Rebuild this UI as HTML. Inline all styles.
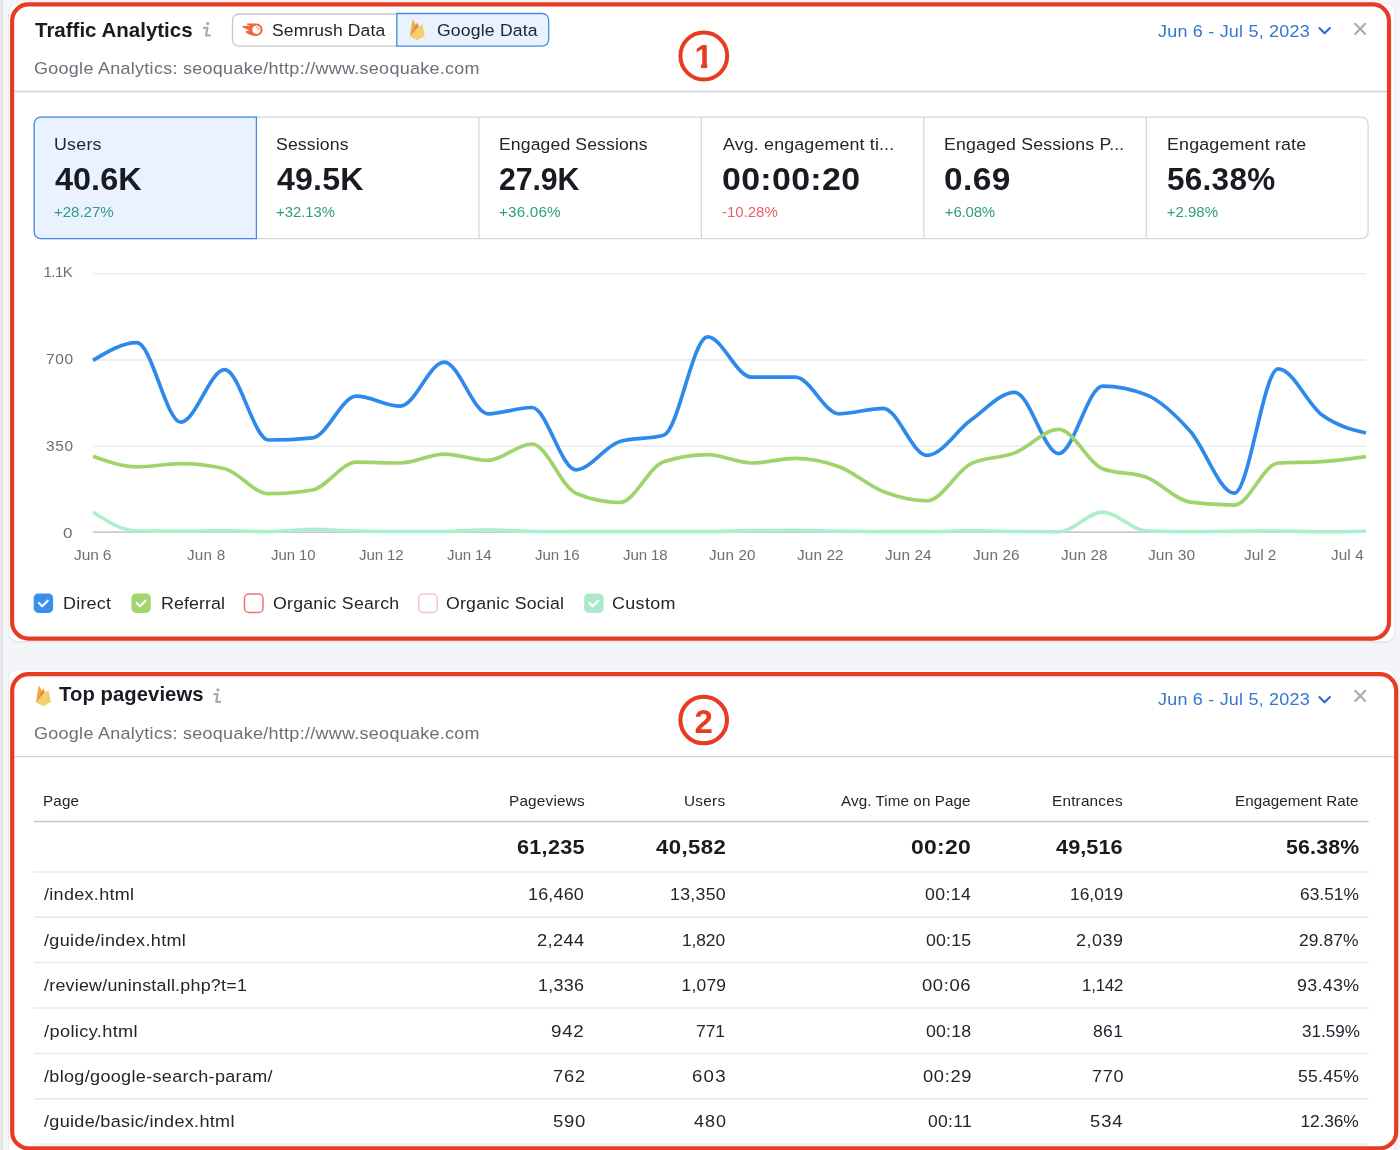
<!DOCTYPE html>
<html lang="en"><head><meta charset="utf-8"><title>Traffic Analytics</title><style>
*{box-sizing:border-box;margin:0;padding:0}
html,body{width:1400px;height:1150px;overflow:hidden;background:#f4f5f9;font-family:"Liberation Sans",sans-serif}
.t{position:absolute;white-space:nowrap;line-height:1;display:block}
.abs{position:absolute}
.ov{position:absolute;left:0;top:0}
</style></head><body>
<div class="abs" style="left:0;top:0;width:4px;height:1150px;background:linear-gradient(90deg,#e9e9ea 0,#e8e8e9 48%,#dddde0 52%,#dfdfe2 72%,#f0f1f4 80%,#f4f5f9 100%)"></div>
<div class="abs" style="left:9px;top:3.5px;width:1384.5px;height:637px;background:#fff;border-radius:8px;box-shadow:0 1px 3px rgba(25,27,35,.09),0 0 1px rgba(25,27,35,.10)"></div>
<div class="abs" style="left:9px;top:669.5px;width:1384.5px;height:500px;background:#fff;border-radius:8px;box-shadow:0 1px 3px rgba(25,27,35,.09),0 0 1px rgba(25,27,35,.10)"></div>
<svg class="ov" width="1400" height="1150" viewBox="0 0 1400 1150">
<line x1="14.0" x2="1387.0" y1="91.50" y2="91.50" stroke="#d1d4dc" stroke-width="1.3"/>
<line x1="14.0" x2="1394.0" y1="756.70" y2="756.70" stroke="#d1d4dc" stroke-width="1.3"/>
<rect x="232.5" y="14" width="170" height="32.2" rx="6.5" fill="#fff" stroke="#c4c7cf" stroke-width="1.3"/>
<path d="M396.8 13.5H542.2a6.5 6.5 0 0 1 6.5 6.5V39.7a6.5 6.5 0 0 1 -6.5 6.5H396.8Z" fill="#eaf2ff" stroke="#4a8be0" stroke-width="1.3"/>
<rect x="34.2" y="117.2" width="1333.9" height="121.4" rx="6.5" fill="#fff" stroke="#d4d6dd" stroke-width="1.3"/>
<line x1="478.87" x2="478.87" y1="117.2" y2="238.6" stroke="#d4d6dd" stroke-width="1.3"/>
<line x1="701.35" x2="701.35" y1="117.2" y2="238.6" stroke="#d4d6dd" stroke-width="1.3"/>
<line x1="923.83" x2="923.83" y1="117.2" y2="238.6" stroke="#d4d6dd" stroke-width="1.3"/>
<line x1="1146.32" x2="1146.32" y1="117.2" y2="238.6" stroke="#d4d6dd" stroke-width="1.3"/>
<path d="M256.4 117.2H40.7a6.5 6.5 0 0 0 -6.5 6.5V232.1a6.5 6.5 0 0 0 6.5 6.5H256.4Z" fill="#eaf2ff" stroke="#4a8be0" stroke-width="1.3"/>
<line x1="33.7" x2="1368.7" y1="821.60" y2="821.60" stroke="#c2c5cf" stroke-width="1.5"/>
<line x1="33.7" x2="1368.7" y1="872.00" y2="872.00" stroke="#e5e7ee" stroke-width="1.4"/>
<line x1="33.7" x2="1368.7" y1="917.30" y2="917.30" stroke="#e5e7ee" stroke-width="1.4"/>
<line x1="33.7" x2="1368.7" y1="962.60" y2="962.60" stroke="#e5e7ee" stroke-width="1.4"/>
<line x1="33.7" x2="1368.7" y1="1008.00" y2="1008.00" stroke="#e5e7ee" stroke-width="1.4"/>
<line x1="33.7" x2="1368.7" y1="1053.40" y2="1053.40" stroke="#e5e7ee" stroke-width="1.4"/>
<line x1="33.7" x2="1368.7" y1="1098.80" y2="1098.80" stroke="#e5e7ee" stroke-width="1.4"/>
<line x1="33.7" x2="1368.7" y1="1144.10" y2="1144.10" stroke="#e5e7ee" stroke-width="1.4"/>
<line x1="93" x2="1366" y1="273.9" y2="273.9" stroke="#e6e9ec" stroke-width="1.4"/>
<line x1="93" x2="1366" y1="360.0" y2="360.0" stroke="#e6e9ec" stroke-width="1.4"/>
<line x1="93" x2="1366" y1="446.1" y2="446.1" stroke="#e6e9ec" stroke-width="1.4"/>
<line x1="93" x2="1366" y1="532.1" y2="532.1" stroke="#b4b6c1" stroke-width="1.4"/>
<path d="M93.0 360.4C107.6 351.5 122.3 342.7 136.9 342.7C151.5 342.7 166.2 422.1 180.8 422.1C195.4 422.1 210.1 369.7 224.7 369.7C239.3 369.7 254.0 440.0 268.6 440.0C283.2 440.0 297.9 439.3 312.5 437.8C327.1 436.3 341.7 396.2 356.4 396.2C371.0 396.2 385.6 406.2 400.3 406.2C414.9 406.2 429.5 362.1 444.2 362.1C458.8 362.1 473.4 413.8 488.1 413.8C502.7 413.8 517.3 407.5 532.0 407.5C546.6 407.5 561.2 469.8 575.9 469.8C590.5 469.8 605.1 445.7 619.8 441.5C634.4 437.3 649.0 439.4 663.7 435.2C678.3 431.0 692.9 336.9 707.6 336.9C722.2 336.9 736.8 377.2 751.4 377.2C766.1 377.2 780.7 377.2 795.3 377.2C810.0 377.2 824.6 413.8 839.2 413.8C853.9 413.8 868.5 408.3 883.1 408.3C897.8 408.3 912.4 455.4 927.0 455.4C941.7 455.4 956.3 430.6 970.9 420.1C985.6 409.6 1000.2 392.4 1014.8 392.4C1029.5 392.4 1044.1 453.6 1058.7 453.6C1073.4 453.6 1088.0 386.1 1102.6 386.1C1117.3 386.1 1131.9 389.0 1146.5 394.9C1161.1 400.8 1175.8 415.1 1190.4 431.5C1205.0 447.9 1219.7 493.2 1234.3 493.2C1248.9 493.2 1263.6 368.9 1278.2 368.9C1292.8 368.9 1307.5 404.4 1322.1 415.1C1336.7 425.8 1351.4 429.4 1366.0 433.0" fill="none" stroke="#2e89ec" stroke-width="3.7" stroke-linecap="butt" stroke-linejoin="round"/>
<path d="M93.0 456.2C107.6 461.5 122.3 466.8 136.9 466.8C151.5 466.8 166.2 463.7 180.8 463.7C195.4 463.7 210.1 465.4 224.7 468.8C239.3 472.2 254.0 493.7 268.6 493.7C283.2 493.7 297.9 492.5 312.5 490.0C327.1 487.5 341.7 462.2 356.4 462.2C371.0 462.2 385.6 463.0 400.3 463.0C414.9 463.0 429.5 454.1 444.2 454.1C458.8 454.1 473.4 460.4 488.1 460.4C502.7 460.4 517.3 444.0 532.0 444.0C546.6 444.0 561.2 487.0 575.9 493.2C590.5 499.4 605.1 502.5 619.8 502.5C634.4 502.5 649.0 466.4 663.7 461.7C678.3 457.0 692.9 454.6 707.6 454.6C722.2 454.6 736.8 463.0 751.4 463.0C766.1 463.0 780.7 458.4 795.3 458.4C810.0 458.4 824.6 461.3 839.2 466.8C853.9 472.3 868.5 485.8 883.1 491.5C897.8 497.2 912.4 500.8 927.0 500.8C941.7 500.8 956.3 470.9 970.9 463.7C985.6 456.5 1000.2 458.6 1014.8 452.9C1029.5 447.2 1044.1 429.4 1058.7 429.4C1073.4 429.4 1088.0 463.1 1102.6 468.8C1117.3 474.5 1131.9 471.8 1146.5 477.3C1161.1 482.9 1175.8 500.1 1190.4 502.1C1205.0 504.1 1219.7 505.1 1234.3 505.1C1248.9 505.1 1263.6 463.9 1278.2 463.0C1292.8 462.1 1307.5 462.6 1322.1 461.7C1336.7 460.8 1351.4 458.8 1366.0 456.7" fill="none" stroke="#a0d46b" stroke-width="3.7" stroke-linejoin="round"/>
<path d="M93.0 512.2C107.6 521.5 122.3 530.9 136.9 531.0C151.5 531.1 166.2 531.2 180.8 531.2C195.4 531.2 210.1 530.8 224.7 530.8C239.3 530.8 254.0 531.6 268.6 531.6C283.2 531.6 297.9 529.3 312.5 529.3C327.1 529.3 341.7 530.7 356.4 531.0C371.0 531.3 385.6 531.5 400.3 531.5C414.9 531.5 429.5 531.5 444.2 531.5C458.8 531.5 473.4 529.8 488.1 529.8C502.7 529.8 517.3 531.4 532.0 531.5C546.6 531.6 561.2 531.6 575.9 531.6C590.5 531.6 605.1 531.6 619.8 531.6C634.4 531.6 649.0 531.6 663.7 531.6C678.3 531.6 692.9 531.6 707.6 531.6C722.2 531.6 736.8 530.8 751.4 530.6C766.1 530.4 780.7 530.2 795.3 530.2C810.0 530.2 824.6 531.0 839.2 531.2C853.9 531.4 868.5 531.6 883.1 531.6C897.8 531.6 912.4 531.6 927.0 531.6C941.7 531.6 956.3 530.8 970.9 530.8C985.6 530.8 1000.2 531.3 1014.8 531.5C1029.5 531.7 1044.1 531.8 1058.7 531.8C1073.4 531.8 1088.0 512.1 1102.6 512.1C1117.3 512.1 1131.9 530.6 1146.5 531.0C1161.1 531.4 1175.8 531.6 1190.4 531.6C1205.0 531.6 1219.7 531.5 1234.3 531.4C1248.9 531.3 1263.6 531.0 1278.2 531.0C1292.8 531.0 1307.5 531.7 1322.1 531.7C1336.7 531.7 1351.4 531.5 1366.0 531.2" fill="none" stroke="#adeecd" stroke-width="3.6" stroke-linejoin="round"/>
<path d="M246.9 23.6L256.5 23.6A6.15 6.15 0 0 1 256.5 35.9C252.5 35.9 248.5 34.3 245.8 32.4L245.8 31.2L249.2 30.6L242.5 27.2L242.5 25.9L250 25.7L246.9 24.6Z" fill="#f0653a"/><circle cx="256.4" cy="29.7" r="4.2" fill="#fff"/><path d="M256.6 27.3A2.6 2.6 0 0 1 259 29.8" fill="none" stroke="#f0653a" stroke-width="0.9" stroke-linecap="round"/>
<g transform="translate(409.8,19.7)"><path d="M0.1 16.4L2.7 0.4Q2.95-0.1 3.3 0.4L6.5 6.1L0.5 16.5Z" fill="#f1ab3a"/><path d="M0.3 16.5L6 5.2L7.3 3.3Q7.55 2.9 7.85 3.4L8.5 7.4L0.6 16.6Z" fill="#dd8d47"/><path d="M7.6 3.1L9.3 6.8L8.2 7.9Z" fill="#f1ab3a"/><path d="M0.15 16.55L11.3 5Q12 4.1 12.7 5L15 16.3L8.3 20.1Q7.4 20.6 6.5 20.1Z" fill="#f2cf6b"/></g>
<g transform="translate(35.9,685.7)"><path d="M0.1 16.4L2.7 0.4Q2.95-0.1 3.3 0.4L6.5 6.1L0.5 16.5Z" fill="#f1ab3a"/><path d="M0.3 16.5L6 5.2L7.3 3.3Q7.55 2.9 7.85 3.4L8.5 7.4L0.6 16.6Z" fill="#dd8d47"/><path d="M7.6 3.1L9.3 6.8L8.2 7.9Z" fill="#f1ab3a"/><path d="M0.15 16.55L11.3 5Q12 4.1 12.7 5L15 16.3L8.3 20.1Q7.4 20.6 6.5 20.1Z" fill="#f2cf6b"/></g>
<g transform="translate(0,0)" fill="none" stroke="#a9abb8" stroke-width="2.2" stroke-linecap="round" stroke-linejoin="round"><circle cx="207.7" cy="23.6" r="1.7" fill="#a9abb8" stroke="none"/><path d="M204 27.8H207.4L206 35.5H210"/></g>
<g transform="translate(10.2,666.3)" fill="none" stroke="#a9abb8" stroke-width="2.2" stroke-linecap="round" stroke-linejoin="round"><circle cx="207.7" cy="23.6" r="1.7" fill="#a9abb8" stroke="none"/><path d="M204 27.8H207.4L206 35.5H210"/></g>
<g fill="none" stroke-width="2.1" stroke-linecap="round" stroke-linejoin="round"><path transform="translate(0,0)" d="M1319.4 28.1L1324.6 33.3L1329.9 28.1" stroke="#2a6fc9"/><path transform="translate(0,0)" d="M1355.2 23.8L1365.2 34M1365.2 23.8L1355.2 34" stroke="#a9abb6"/></g>
<g fill="none" stroke-width="2.1" stroke-linecap="round" stroke-linejoin="round"><path transform="translate(0,669)" d="M1319.4 28.1L1324.6 33.3L1329.9 28.1" stroke="#2a6fc9"/><path transform="translate(0,666.9)" d="M1355.2 23.8L1365.2 34M1365.2 23.8L1355.2 34" stroke="#a9abb6"/></g>
<rect x="12.1" y="4.4" width="1376.9" height="634.2" rx="16.5" fill="none" stroke="#e83c22" stroke-width="4.2"/>
<rect x="12.2" y="674.1" width="1384" height="474.3" rx="16.5" fill="none" stroke="#e83c22" stroke-width="4.2"/>
<circle cx="703.8" cy="56" r="23.4" fill="none" stroke="#e83c22" stroke-width="4"/>
<circle cx="703.7" cy="720" r="23.3" fill="none" stroke="#e83c22" stroke-width="4.1"/>
<clipPath id="c1"><path d="M690 40H720V64H707.2V70H701V64H690Z"/></clipPath><text x="703.8" y="67.9" clip-path="url(#c1)" text-anchor="middle" font-family="Liberation Sans, sans-serif" font-weight="700" font-size="33" fill="#e83c22">1</text>
<text x="703.6" y="732.8" text-anchor="middle" font-family="Liberation Sans, sans-serif" font-weight="700" font-size="33" fill="#e83c22">2</text>
<rect x="33.7" y="593.5" width="19.4" height="19.4" rx="4.6" fill="#398fee"/><path d="M39.0 603L42.2 606.2L47.75 600.7" fill="none" stroke="#fff" stroke-width="2.2" stroke-linecap="round" stroke-linejoin="round"/>
<rect x="131.4" y="593.5" width="19.4" height="19.4" rx="4.6" fill="#a3d56e"/><path d="M136.70000000000002 603L139.9 606.2L145.45000000000002 600.7" fill="none" stroke="#fff" stroke-width="2.2" stroke-linecap="round" stroke-linejoin="round"/>
<rect x="244.5" y="593.95" width="18.5" height="18.6" rx="4.3" fill="#fff" stroke="#ee7479" stroke-width="1.5"/>
<rect x="418.7" y="593.95" width="18.5" height="18.6" rx="4.3" fill="#fff" stroke="#f8c4ca" stroke-width="1.5"/>
<rect x="584.1" y="593.5" width="19.4" height="19.4" rx="4.6" fill="#ace9cc"/><path d="M589.4 603L592.6 606.2L598.15 600.7" fill="none" stroke="#fff" stroke-width="2.2" stroke-linecap="round" stroke-linejoin="round"/>
</svg>
<span id="t0" class="t" style="left:34.60px;top:20px;font-size:20.10px;font-weight:700;color:#191b23;letter-spacing:-0.006px;transform:scaleX(1.0209);transform-origin:0 0">Traffic Analytics</span>
<span id="t1" class="t" style="left:272.20px;top:22px;font-size:17.40px;font-weight:400;color:#23252e;letter-spacing:0.106px;transform:scaleX(1.0072);transform-origin:0 0">Semrush Data</span>
<span id="t2" class="t" style="left:436.60px;top:22px;font-size:17.40px;font-weight:400;color:#23252e;letter-spacing:0.181px;transform:scaleX(1.0113);transform-origin:0 0">Google Data</span>
<span id="t3" class="t" style="left:33.60px;top:60px;font-size:17.40px;font-weight:400;color:#6c6e79;letter-spacing:0.281px;transform:scaleX(1.0329);transform-origin:0 0">Google Analytics: seoquake/http://www.seoquake.com</span>
<span id="t4" class="t" style="left:1157.60px;top:23px;font-size:17.40px;font-weight:400;color:#3377cf;letter-spacing:0.207px;transform:scaleX(1.0335);transform-origin:0 0">Jun 6 - Jul 5, 2023</span>
<span id="t5" class="t" style="left:54.20px;top:136px;font-size:17.40px;font-weight:400;color:#23252e;letter-spacing:0.244px;transform:scaleX(1.0227);transform-origin:0 0">Users</span>
<span id="t6" class="t" style="left:55.20px;top:165px;font-size:30.90px;font-weight:700;color:#191b23;letter-spacing:0.024px;transform:scaleX(1.0494);transform-origin:0 0">40.6K</span>
<span id="t7" class="t" style="left:54.20px;top:204px;font-size:15.00px;font-weight:400;color:#2f9e7d;letter-spacing:-0.040px;transform:scaleX(1.0052);transform-origin:0 0">+28.27%</span>
<span id="t8" class="t" style="left:276.10px;top:136px;font-size:17.40px;font-weight:400;color:#23252e;letter-spacing:0.141px;transform:scaleX(1.0145);transform-origin:0 0">Sessions</span>
<span id="t9" class="t" style="left:277.10px;top:165px;font-size:30.90px;font-weight:700;color:#191b23;letter-spacing:0.192px;transform:scaleX(1.0390);transform-origin:0 0">49.5K</span>
<span id="t10" class="t" style="left:276.10px;top:204px;font-size:15.00px;font-weight:400;color:#2f9e7d;letter-spacing:0.025px;transform:scaleX(0.9873);transform-origin:0 0">+32.13%</span>
<span id="t11" class="t" style="left:499.00px;top:136px;font-size:17.40px;font-weight:400;color:#23252e;letter-spacing:0.115px;transform:scaleX(1.0122);transform-origin:0 0">Engaged Sessions</span>
<span id="t12" class="t" style="left:499.00px;top:165px;font-size:30.90px;font-weight:700;color:#191b23;letter-spacing:-0.102px;transform:scaleX(0.9802);transform-origin:0 0">27.9K</span>
<span id="t13" class="t" style="left:499.00px;top:204px;font-size:15.00px;font-weight:400;color:#2f9e7d;letter-spacing:0.164px;transform:scaleX(1.0172);transform-origin:0 0">+36.06%</span>
<span id="t14" class="t" style="left:722.90px;top:136px;font-size:17.40px;font-weight:400;color:#23252e;letter-spacing:0.151px;transform:scaleX(1.0247);transform-origin:0 0">Avg. engagement ti...</span>
<span id="t15" class="t" style="left:721.90px;top:165px;font-size:30.90px;font-weight:700;color:#191b23;letter-spacing:0.273px;transform:scaleX(1.0992);transform-origin:0 0">00:00:20</span>
<span id="t16" class="t" style="left:721.90px;top:204px;font-size:15.00px;font-weight:400;color:#e5616b">-10.28%</span>
<span id="t17" class="t" style="left:943.80px;top:136px;font-size:17.40px;font-weight:400;color:#23252e;letter-spacing:0.159px;transform:scaleX(1.0190);transform-origin:0 0">Engaged Sessions P...</span>
<span id="t18" class="t" style="left:943.80px;top:165px;font-size:30.90px;font-weight:700;color:#191b23;letter-spacing:0.369px;transform:scaleX(1.0828);transform-origin:0 0">0.69</span>
<span id="t19" class="t" style="left:944.80px;top:204px;font-size:15.00px;font-weight:400;color:#2f9e7d;letter-spacing:-0.180px">+6.08%</span>
<span id="t20" class="t" style="left:1166.70px;top:136px;font-size:17.40px;font-weight:400;color:#23252e;letter-spacing:0.165px;transform:scaleX(1.0248);transform-origin:0 0">Engagement rate</span>
<span id="t21" class="t" style="left:1166.70px;top:165px;font-size:30.90px;font-weight:700;color:#191b23;letter-spacing:0.274px;transform:scaleX(1.0192);transform-origin:0 0">56.38%</span>
<span id="t22" class="t" style="left:1166.70px;top:204px;font-size:15.00px;font-weight:400;color:#2f9e7d">+2.98%</span>
<span id="t23" class="t" style="left:43.40px;top:264px;font-size:15.00px;font-weight:400;color:#6c6e79;letter-spacing:-0.500px">1.1K</span>
<span id="t24" class="t" style="left:45.60px;top:351px;font-size:15.00px;font-weight:400;color:#6c6e79;letter-spacing:0.603px;transform:scaleX(1.0292);transform-origin:0 0">700</span>
<span id="t25" class="t" style="left:45.60px;top:438px;font-size:15.00px;font-weight:400;color:#6c6e79;letter-spacing:0.603px;transform:scaleX(1.0292);transform-origin:0 0">350</span>
<span id="t26" class="t" style="left:63.20px;top:525px;font-size:15.00px;font-weight:400;color:#6c6e79;transform:scaleX(1.1357);transform-origin:0 0">0</span>
<span id="t27" class="t" style="left:74.20px;top:547px;font-size:15.00px;font-weight:400;color:#6c6e79;letter-spacing:-0.114px;transform:scaleX(1.0329);transform-origin:0 0">Jun 6</span>
<span id="t28" class="t" style="left:186.50px;top:547px;font-size:15.00px;font-weight:400;color:#6c6e79;letter-spacing:0.203px;transform:scaleX(1.0181);transform-origin:0 0">Jun 8</span>
<span id="t29" class="t" style="left:271.30px;top:547px;font-size:15.00px;font-weight:400;color:#6c6e79;letter-spacing:-0.036px;transform:scaleX(0.9922);transform-origin:0 0">Jun 10</span>
<span id="t30" class="t" style="left:359.10px;top:547px;font-size:15.00px;font-weight:400;color:#6c6e79;letter-spacing:-0.114px;transform:scaleX(1.0034);transform-origin:0 0">Jun 12</span>
<span id="t31" class="t" style="left:446.90px;top:547px;font-size:15.00px;font-weight:400;color:#6c6e79;letter-spacing:-0.114px;transform:scaleX(1.0034);transform-origin:0 0">Jun 14</span>
<span id="t32" class="t" style="left:534.70px;top:547px;font-size:15.00px;font-weight:400;color:#6c6e79;letter-spacing:-0.114px;transform:scaleX(1.0034);transform-origin:0 0">Jun 16</span>
<span id="t33" class="t" style="left:622.50px;top:547px;font-size:15.00px;font-weight:400;color:#6c6e79;letter-spacing:-0.114px;transform:scaleX(1.0034);transform-origin:0 0">Jun 18</span>
<span id="t34" class="t" style="left:709.30px;top:547px;font-size:15.00px;font-weight:400;color:#6c6e79;letter-spacing:0.163px;transform:scaleX(1.0144);transform-origin:0 0">Jun 20</span>
<span id="t35" class="t" style="left:797.10px;top:547px;font-size:15.00px;font-weight:400;color:#6c6e79;letter-spacing:0.084px;transform:scaleX(1.0261);transform-origin:0 0">Jun 22</span>
<span id="t36" class="t" style="left:884.90px;top:547px;font-size:15.00px;font-weight:400;color:#6c6e79;letter-spacing:0.084px;transform:scaleX(1.0261);transform-origin:0 0">Jun 24</span>
<span id="t37" class="t" style="left:972.70px;top:547px;font-size:15.00px;font-weight:400;color:#6c6e79;letter-spacing:0.084px;transform:scaleX(1.0261);transform-origin:0 0">Jun 26</span>
<span id="t38" class="t" style="left:1060.50px;top:547px;font-size:15.00px;font-weight:400;color:#6c6e79;letter-spacing:0.084px;transform:scaleX(1.0261);transform-origin:0 0">Jun 28</span>
<span id="t39" class="t" style="left:1147.80px;top:547px;font-size:15.00px;font-weight:400;color:#6c6e79;letter-spacing:0.131px;transform:scaleX(1.0318);transform-origin:0 0">Jun 30</span>
<span id="t40" class="t" style="left:1243.50px;top:547px;font-size:15.00px;font-weight:400;color:#6c6e79;letter-spacing:-0.036px;transform:scaleX(1.0250);transform-origin:0 0">Jul 2</span>
<span id="t41" class="t" style="left:1330.80px;top:547px;font-size:15.00px;font-weight:400;color:#6c6e79;letter-spacing:0.123px;transform:scaleX(1.0161);transform-origin:0 0">Jul 4</span>
<span id="t42" class="t" style="left:63.40px;top:595px;font-size:17.40px;font-weight:400;color:#23252e;letter-spacing:0.213px;transform:scaleX(1.0330);transform-origin:0 0">Direct</span>
<span id="t43" class="t" style="left:160.70px;top:595px;font-size:17.40px;font-weight:400;color:#23252e;letter-spacing:0.084px;transform:scaleX(1.0254);transform-origin:0 0">Referral</span>
<span id="t44" class="t" style="left:272.80px;top:595px;font-size:17.40px;font-weight:400;color:#23252e;letter-spacing:0.256px;transform:scaleX(1.0162);transform-origin:0 0">Organic Search</span>
<span id="t45" class="t" style="left:446.20px;top:595px;font-size:17.40px;font-weight:400;color:#23252e;letter-spacing:0.219px;transform:scaleX(1.0179);transform-origin:0 0">Organic Social</span>
<span id="t46" class="t" style="left:612.20px;top:595px;font-size:17.40px;font-weight:400;color:#23252e;letter-spacing:0.340px;transform:scaleX(1.0302);transform-origin:0 0">Custom</span>
<span id="t47" class="t" style="left:59.20px;top:684px;font-size:20.10px;font-weight:700;color:#191b23;letter-spacing:0.068px;transform:scaleX(1.0079);transform-origin:0 0">Top pageviews</span>
<span id="t48" class="t" style="left:33.60px;top:725px;font-size:17.40px;font-weight:400;color:#6c6e79;letter-spacing:0.281px;transform:scaleX(1.0329);transform-origin:0 0">Google Analytics: seoquake/http://www.seoquake.com</span>
<span id="t49" class="t" style="left:1157.60px;top:691px;font-size:17.40px;font-weight:400;color:#3377cf;letter-spacing:0.207px;transform:scaleX(1.0335);transform-origin:0 0">Jun 6 - Jul 5, 2023</span>
<span id="t50" class="t" style="left:43.00px;top:793px;font-size:15.00px;font-weight:400;color:#23252e;letter-spacing:0.164px;transform:scaleX(1.0152);transform-origin:0 0">Page</span>
<span id="t51" class="t" style="left:509.00px;top:793px;font-size:15.00px;font-weight:400;color:#23252e;letter-spacing:0.174px;transform:scaleX(1.0225);transform-origin:0 0">Pageviews</span>
<span id="t52" class="t" style="left:683.80px;top:793px;font-size:15.00px;font-weight:400;color:#23252e;letter-spacing:0.264px;transform:scaleX(1.0237);transform-origin:0 0">Users</span>
<span id="t53" class="t" style="left:841.40px;top:793px;font-size:15.00px;font-weight:400;color:#23252e;letter-spacing:0.093px;transform:scaleX(1.0119);transform-origin:0 0">Avg. Time on Page</span>
<span id="t54" class="t" style="left:1052.20px;top:793px;font-size:15.00px;font-weight:400;color:#23252e;letter-spacing:0.193px;transform:scaleX(1.0212);transform-origin:0 0">Entrances</span>
<span id="t55" class="t" style="left:1235.00px;top:793px;font-size:15.00px;font-weight:400;color:#23252e;letter-spacing:0.070px;transform:scaleX(1.0130);transform-origin:0 0">Engagement Rate</span>
<span id="t56" class="t" style="left:517.40px;top:837px;font-size:20.10px;font-weight:700;color:#191b23;letter-spacing:0.250px;transform:scaleX(1.0773);transform-origin:0 0">61,235</span>
<span id="t57" class="t" style="left:656.20px;top:837px;font-size:20.10px;font-weight:700;color:#191b23;letter-spacing:0.385px;transform:scaleX(1.1036);transform-origin:0 0">40,582</span>
<span id="t58" class="t" style="left:911.40px;top:837px;font-size:20.10px;font-weight:700;color:#191b23;letter-spacing:0.272px;transform:scaleX(1.1400);transform-origin:0 0">00:20</span>
<span id="t59" class="t" style="left:1056.00px;top:837px;font-size:20.10px;font-weight:700;color:#191b23;letter-spacing:0.055px;transform:scaleX(1.0800);transform-origin:0 0">49,516</span>
<span id="t60" class="t" style="left:1285.60px;top:837px;font-size:20.10px;font-weight:700;color:#191b23;letter-spacing:0.189px;transform:scaleX(1.0597);transform-origin:0 0">56.38%</span>
<span id="t61" class="t" style="left:43.80px;top:886px;font-size:17.40px;font-weight:400;color:#23252e;letter-spacing:0.305px;transform:scaleX(1.0337);transform-origin:0 0">/index.html</span>
<span id="t62" class="t" style="left:528.20px;top:886px;font-size:17.40px;font-weight:400;color:#23252e;letter-spacing:0.164px;transform:scaleX(1.0343);transform-origin:0 0">16,460</span>
<span id="t63" class="t" style="left:670.20px;top:886px;font-size:17.40px;font-weight:400;color:#23252e;letter-spacing:0.292px;transform:scaleX(1.0183);transform-origin:0 0">13,350</span>
<span id="t64" class="t" style="left:925.40px;top:886px;font-size:17.40px;font-weight:400;color:#23252e;letter-spacing:0.406px;transform:scaleX(1.0174);transform-origin:0 0">00:14</span>
<span id="t65" class="t" style="left:1070.00px;top:886px;font-size:17.40px;font-weight:400;color:#23252e">16,019</span>
<span id="t66" class="t" style="left:1300.00px;top:886px;font-size:17.40px;font-weight:400;color:#23252e;letter-spacing:0.032px;transform:scaleX(0.9966);transform-origin:0 0">63.51%</span>
<span id="t67" class="t" style="left:43.80px;top:932px;font-size:17.40px;font-weight:400;color:#23252e;letter-spacing:0.345px;transform:scaleX(1.0355);transform-origin:0 0">/guide/index.html</span>
<span id="t68" class="t" style="left:536.60px;top:932px;font-size:17.40px;font-weight:400;color:#23252e;letter-spacing:0.359px;transform:scaleX(1.0488);transform-origin:0 0">2,244</span>
<span id="t69" class="t" style="left:682.20px;top:932px;font-size:17.40px;font-weight:400;color:#23252e;letter-spacing:-0.105px;transform:scaleX(0.9988);transform-origin:0 0">1,820</span>
<span id="t70" class="t" style="left:926.00px;top:932px;font-size:17.40px;font-weight:400;color:#23252e;letter-spacing:0.144px;transform:scaleX(1.0226);transform-origin:0 0">00:15</span>
<span id="t71" class="t" style="left:1075.80px;top:932px;font-size:17.40px;font-weight:400;color:#23252e;letter-spacing:0.503px;transform:scaleX(1.0314);transform-origin:0 0">2,039</span>
<span id="t72" class="t" style="left:1298.60px;top:932px;font-size:17.40px;font-weight:400;color:#23252e;letter-spacing:0.050px;transform:scaleX(1.0043);transform-origin:0 0">29.87%</span>
<span id="t73" class="t" style="left:43.80px;top:977px;font-size:17.40px;font-weight:400;color:#23252e;letter-spacing:0.240px;transform:scaleX(1.0260);transform-origin:0 0">/review/uninstall.php?t=1</span>
<span id="t74" class="t" style="left:538.20px;top:977px;font-size:17.40px;font-weight:400;color:#23252e;letter-spacing:0.303px;transform:scaleX(1.0298);transform-origin:0 0">1,336</span>
<span id="t75" class="t" style="left:681.60px;top:977px;font-size:17.40px;font-weight:400;color:#23252e;letter-spacing:0.225px">1,079</span>
<span id="t76" class="t" style="left:922.40px;top:977px;font-size:17.40px;font-weight:400;color:#23252e;letter-spacing:0.590px;transform:scaleX(1.0595);transform-origin:0 0">00:06</span>
<span id="t77" class="t" style="left:1081.60px;top:977px;font-size:17.40px;font-weight:400;color:#23252e;letter-spacing:-0.195px;transform:scaleX(0.9690);transform-origin:0 0">1,142</span>
<span id="t78" class="t" style="left:1296.60px;top:977px;font-size:17.40px;font-weight:400;color:#23252e;letter-spacing:0.292px;transform:scaleX(1.0259);transform-origin:0 0">93.43%</span>
<span id="t79" class="t" style="left:43.80px;top:1023px;font-size:17.40px;font-weight:400;color:#23252e;letter-spacing:0.368px;transform:scaleX(1.0435);transform-origin:0 0">/policy.html</span>
<span id="t80" class="t" style="left:551.40px;top:1023px;font-size:17.40px;font-weight:400;color:#23252e;letter-spacing:0.662px;transform:scaleX(1.0796);transform-origin:0 0">942</span>
<span id="t81" class="t" style="left:696.40px;top:1023px;font-size:17.40px;font-weight:400;color:#23252e;letter-spacing:-0.039px;transform:scaleX(1.0037);transform-origin:0 0">771</span>
<span id="t82" class="t" style="left:926.00px;top:1023px;font-size:17.40px;font-weight:400;color:#23252e;letter-spacing:0.144px;transform:scaleX(1.0226);transform-origin:0 0">00:18</span>
<span id="t83" class="t" style="left:1092.60px;top:1023px;font-size:17.40px;font-weight:400;color:#23252e;letter-spacing:0.368px;transform:scaleX(1.0071);transform-origin:0 0">861</span>
<span id="t84" class="t" style="left:1301.60px;top:1023px;font-size:17.40px;font-weight:400;color:#23252e;letter-spacing:-0.021px;transform:scaleX(0.9828);transform-origin:0 0">31.59%</span>
<span id="t85" class="t" style="left:43.80px;top:1068px;font-size:17.40px;font-weight:400;color:#23252e;letter-spacing:0.315px;transform:scaleX(1.0366);transform-origin:0 0">/blog/google-search-param/</span>
<span id="t86" class="t" style="left:552.80px;top:1068px;font-size:17.40px;font-weight:400;color:#23252e;letter-spacing:0.835px;transform:scaleX(1.0429);transform-origin:0 0">762</span>
<span id="t87" class="t" style="left:692.20px;top:1068px;font-size:17.40px;font-weight:400;color:#23252e;letter-spacing:1.165px;transform:scaleX(1.0696);transform-origin:0 0">603</span>
<span id="t88" class="t" style="left:923.00px;top:1068px;font-size:17.40px;font-weight:400;color:#23252e;letter-spacing:0.653px;transform:scaleX(1.0524);transform-origin:0 0">00:29</span>
<span id="t89" class="t" style="left:1091.80px;top:1068px;font-size:17.40px;font-weight:400;color:#23252e;letter-spacing:0.762px;transform:scaleX(1.0304);transform-origin:0 0">770</span>
<span id="t90" class="t" style="left:1298.40px;top:1068px;font-size:17.40px;font-weight:400;color:#23252e;letter-spacing:0.263px;transform:scaleX(1.0103);transform-origin:0 0">55.45%</span>
<span id="t91" class="t" style="left:43.80px;top:1113px;font-size:17.40px;font-weight:400;color:#23252e;letter-spacing:0.295px;transform:scaleX(1.0384);transform-origin:0 0">/guide/basic/index.html</span>
<span id="t92" class="t" style="left:552.80px;top:1113px;font-size:17.40px;font-weight:400;color:#23252e;letter-spacing:0.630px;transform:scaleX(1.0630);transform-origin:0 0">590</span>
<span id="t93" class="t" style="left:693.60px;top:1113px;font-size:17.40px;font-weight:400;color:#23252e;letter-spacing:0.918px;transform:scaleX(1.0345);transform-origin:0 0">480</span>
<span id="t94" class="t" style="left:928.20px;top:1113px;font-size:17.40px;font-weight:400;color:#23252e;letter-spacing:0.265px;transform:scaleX(1.0085);transform-origin:0 0">00:11</span>
<span id="t95" class="t" style="left:1090.20px;top:1113px;font-size:17.40px;font-weight:400;color:#23252e;letter-spacing:0.863px;transform:scaleX(1.0589);transform-origin:0 0">534</span>
<span id="t96" class="t" style="left:1300.60px;top:1113px;font-size:17.40px;font-weight:400;color:#23252e;letter-spacing:-0.180px">12.36%</span>
</body></html>
